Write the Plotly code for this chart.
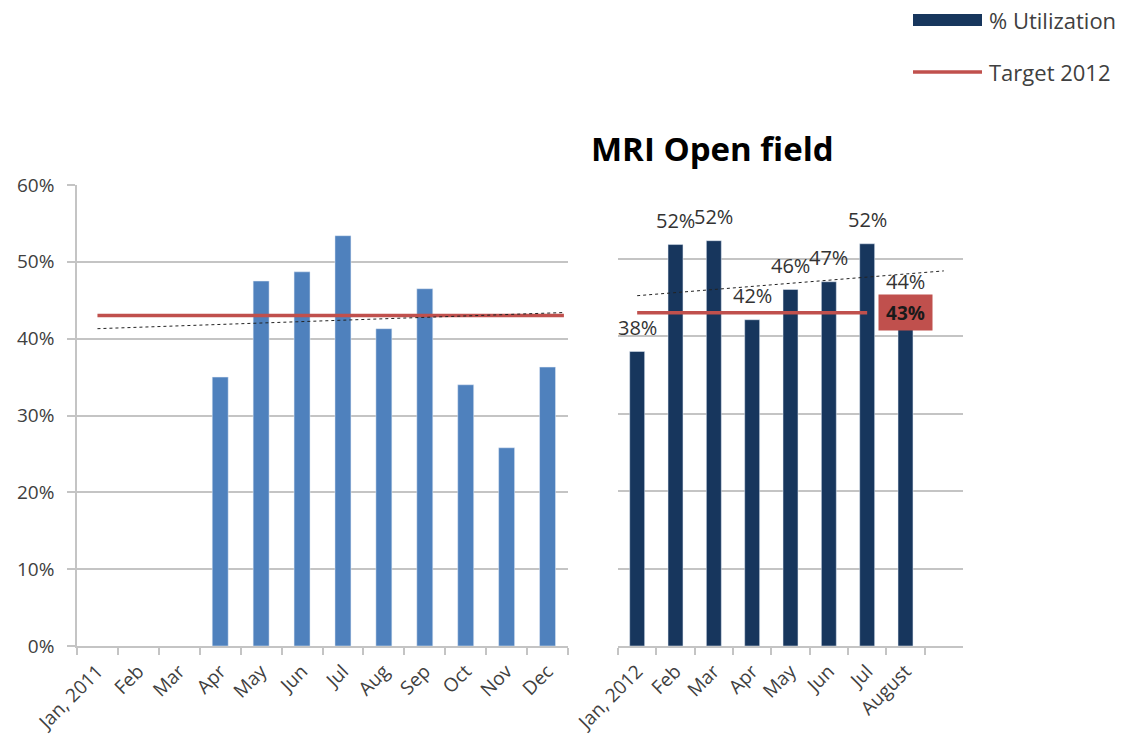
import plotly.graph_objects as go

# ---------------- data ----------------
months_2011 = ["Jan, 2011", "Feb", "Mar", "Apr", "May", "Jun", "Jul", "Aug", "Sep", "Oct", "Nov", "Dec"]
util_2011 = [None, None, None, 0.350, 0.475, 0.487, 0.534, 0.413, 0.465, 0.340, 0.258, 0.363]

months_2012 = ["Jan, 2012", "Feb", "Mar", "Apr", "May", "Jun", "Jul", "August", " "]
util_2012 = [0.380, 0.518, 0.523, 0.421, 0.460, 0.470, 0.519, 0.440, None]
labels_2012 = ["38%", "52%", "52%", "42%", "46%", "47%", "52%", "44%"]

target_value = 0.43
target_label = "43%"
target_x_2011 = [0, 11.4]      # category index span of the target line (left)
target_x_2012 = [0, 6]         # category index span of the target line (right)
target_label_x = 7             # category index of the "43%" box

trend_x_2011 = [0, 11.4]
trend_y_2011 = [0.413, 0.434]
trend_x_2012 = [0, 8]
trend_y_2012 = [0.452, 0.484]

title_text = "MRI Open field"
legend_names = ["% Utilization", "Target 2012"]

# ---------------- style ----------------
W, H = 1140, 742
FONT = "Open Sans, Lato, sans-serif"
BLUE = "#4F81BD"
NAVY = "#17365D"
RED = "#C0504D"
GRID = "#C4C4C4"
TXT = "#404040"


def px_x(p):
    return p / W


def px_y(p):
    return 1 - p / H


fig = go.Figure()
fig.add_trace(go.Bar(x=months_2011, y=util_2011, marker_color=BLUE, width=0.39,
                     xaxis="x", yaxis="y", showlegend=False))
fig.add_trace(go.Bar(x=months_2012, y=util_2012, marker_color=NAVY, width=0.39,
                     xaxis="x2", yaxis="y2", showlegend=False))

shapes = []
# target lines
shapes.append(dict(type="line", xref="x", yref="y", x0=target_x_2011[0], x1=target_x_2011[1],
                   y0=target_value, y1=target_value, line=dict(color=RED, width=3.5)))
shapes.append(dict(type="line", xref="x2", yref="y2", x0=target_x_2012[0], x1=target_x_2012[1],
                   y0=target_value, y1=target_value, line=dict(color=RED, width=3.5)))
# trend lines
shapes.append(dict(type="line", xref="x", yref="y", x0=trend_x_2011[0], x1=trend_x_2011[1],
                   y0=trend_y_2011[0], y1=trend_y_2011[1], line=dict(color="#222222", width=1, dash="dot")))
shapes.append(dict(type="line", xref="x2", yref="y2", x0=trend_x_2012[0], x1=trend_x_2012[1],
                   y0=trend_y_2012[0], y1=trend_y_2012[1], line=dict(color="#222222", width=1, dash="dot")))
# manual legend symbols
shapes.append(dict(type="line", xref="paper", yref="paper", x0=px_x(913), x1=px_x(982),
                   y0=px_y(20), y1=px_y(20), line=dict(color=NAVY, width=12)))
shapes.append(dict(type="line", xref="paper", yref="paper", x0=px_x(913), x1=px_x(982),
                   y0=px_y(72), y1=px_y(72), line=dict(color=RED, width=3.5)))

annotations = []
for i, (v, t) in enumerate(zip(util_2012, labels_2012)):
    annotations.append(dict(x=i, y=v, xref="x2", yref="y2", text=t, showarrow=False,
                            xanchor="center", yanchor="middle", yshift=24,
                            font=dict(family=FONT, size=20, color="#333333")))
annotations.append(dict(x=target_label_x, y=target_value, xref="x2", yref="y2",
                        text="<b>" + target_label + "</b>", showarrow=False,
                        xanchor="center", yanchor="middle",
                        bgcolor=RED, width=45, height=27, borderpad=4,
                        font=dict(family=FONT, size=19, color="#1A1A1A")))
annotations.append(dict(x=px_x(713), y=px_y(148), xref="paper", yref="paper",
                        xanchor="center", yanchor="middle",
                        text="<b>" + title_text + "</b>", showarrow=False,
                        font=dict(family=FONT, size=33, color="#000000")))
annotations.append(dict(x=px_x(987), y=px_y(20), xref="paper", yref="paper",
                        xanchor="left", yanchor="middle",
                        text=legend_names[0], showarrow=False,
                        font=dict(family=FONT, size=22, color=TXT)))
annotations.append(dict(x=px_x(987), y=px_y(72), xref="paper", yref="paper",
                        xanchor="left", yanchor="middle",
                        text=legend_names[1], showarrow=False,
                        font=dict(family=FONT, size=22, color=TXT)))

tickfont = dict(family=FONT, size=19, color=TXT)
xcommon = dict(type="category", showline=True, linecolor=GRID, linewidth=1.5,
               ticks="outside", ticklen=7, tickcolor=GRID, tickwidth=1.5,
               tickson="boundaries", tickangle=-45, tickfont=tickfont,
               ticklabelstandoff=5,
               showgrid=False, automargin=False, fixedrange=True)

fig.update_layout(
    width=W, height=H,
    margin=dict(l=0, r=0, t=0, b=0),
    paper_bgcolor="white", plot_bgcolor="white",
    showlegend=False,
    shapes=shapes, annotations=annotations,
    xaxis=dict(domain=[px_x(77), px_x(568)], anchor="y", range=[-0.5, 11.5],
               categoryorder="array", categoryarray=months_2011, **xcommon),
    xaxis2=dict(domain=[px_x(618), px_x(963)], anchor="y2", range=[-0.5, 8.5],
                categoryorder="array", categoryarray=months_2012, **xcommon),
    yaxis=dict(domain=[px_y(646), px_y(185)], anchor="x", range=[0, 0.6], dtick=0.1,
               tickformat=".0%", showline=True, linecolor=GRID, linewidth=1.5,
               ticks="outside", ticklen=8, tickcolor=GRID, tickwidth=1.5,
               ticklabelstandoff=9,
               showgrid=True, gridcolor=GRID, gridwidth=1.5, zeroline=False,
               tickfont=dict(family=FONT, size=19, color=TXT), automargin=False, fixedrange=True),
    yaxis2=dict(domain=[px_y(646), px_y(181)], anchor="x2", range=[0, 0.6], dtick=0.1,
                showticklabels=False, showline=False, ticks="",
                showgrid=True, gridcolor=GRID, gridwidth=1.5, zeroline=False,
                automargin=False, fixedrange=True),
)

fig.write_html("out.html", config={"displayModeBar": False},
               post_script="document.body.style.margin='0';document.body.style.overflow='hidden';")
